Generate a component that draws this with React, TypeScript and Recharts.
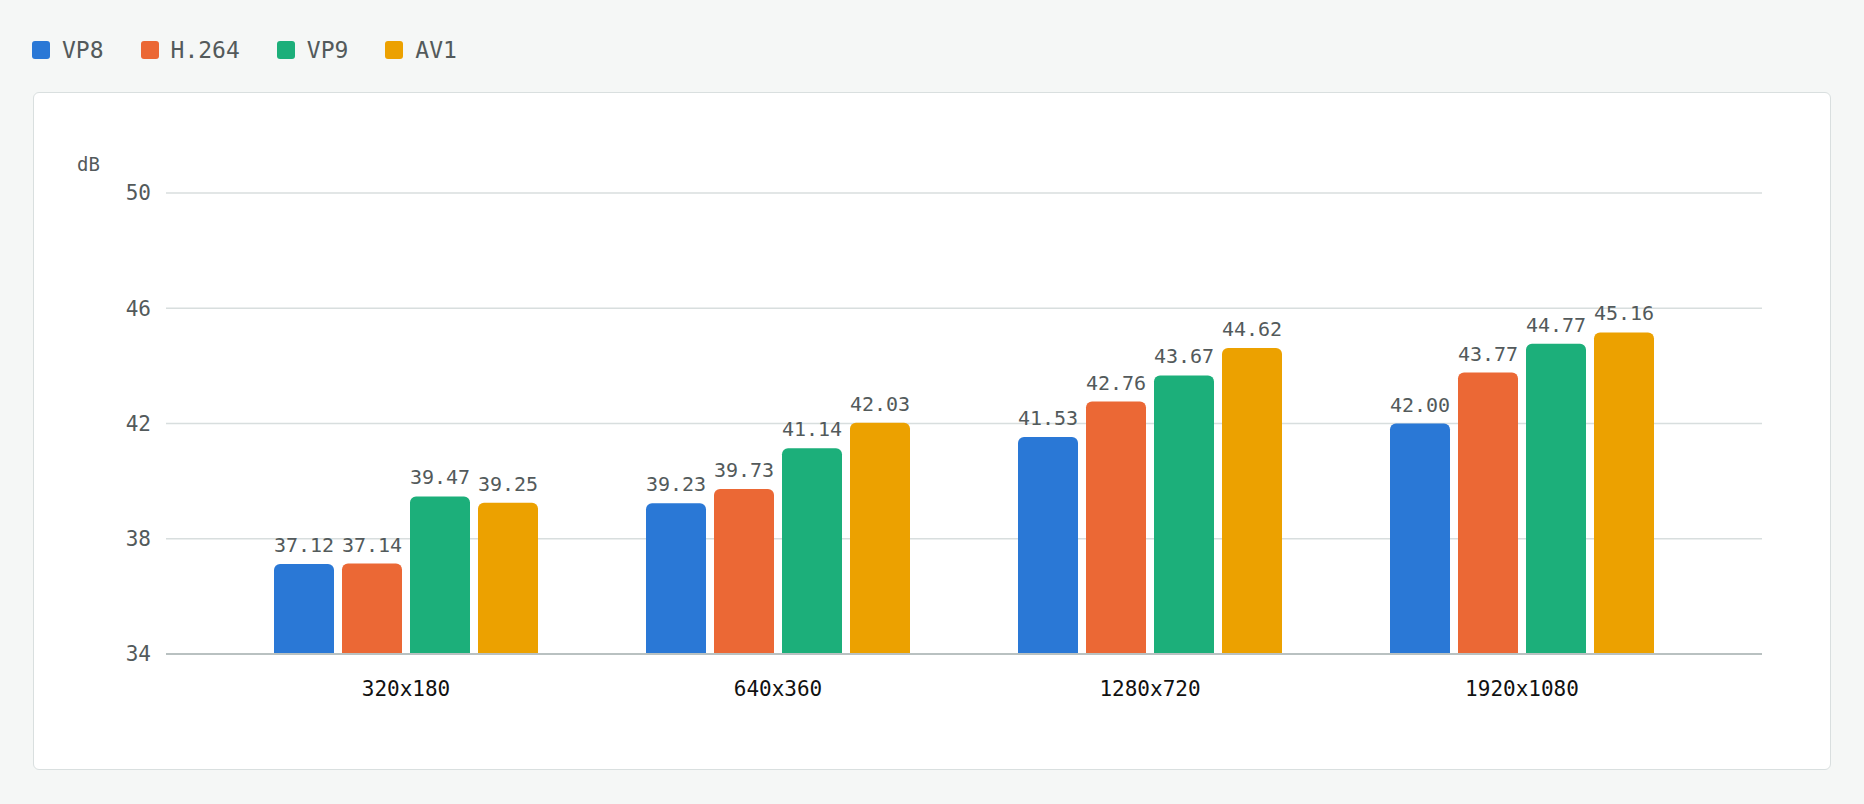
import { Bar, BarChart, CartesianGrid, LabelList, XAxis, YAxis } from "recharts";

const categories = ["320x180", "640x360", "1280x720", "1920x1080"];
const vp8 = [37.12, 39.23, 41.53, 42.0];
const h264 = [37.14, 39.73, 42.76, 43.77];
const vp9 = [39.47, 41.14, 43.67, 44.77];
const av1 = [39.25, 42.03, 44.62, 45.16];
const yTicks = [34, 38, 42, 46, 50];

const MONO = "'DejaVu Sans Mono', monospace";
const MUTED = "#535a5b";

const series = [
  { key: "vp8", name: "VP8", color: "#2a78d6", values: vp8 },
  { key: "h264", name: "H.264", color: "#eb6835", values: h264 },
  { key: "vp9", name: "VP9", color: "#1caf7a", values: vp9 },
  { key: "av1", name: "AV1", color: "#eca100", values: av1 },
];

const data = categories.map((name, i) => {
  const row: Record<string, string | number> = { name };
  series.forEach((s) => (row[s.key] = s.values[i]));
  return row;
});

function Legend() {
  return (
    <div style={{ position: "absolute", left: 32, top: 37, height: 26, display: "flex", alignItems: "center" }}>
      {series.map((s) => (
        <div key={s.key} style={{ display: "flex", alignItems: "center", marginRight: 37 }}>
          <span style={{ width: 18, height: 18, borderRadius: 3, background: s.color, marginRight: 12 }} />
          <span style={{ fontFamily: MONO, fontSize: 23, lineHeight: "26px", color: MUTED }}>{s.name}</span>
        </div>
      ))}
    </div>
  );
}

export default function App() {
  return (
    <div style={{ position: "absolute", left: 0, top: 0, width: 1864, height: 804, background: "#f5f7f6", overflow: "hidden" }}>
      <Legend />
      <div
        style={{
          position: "absolute",
          left: 33,
          top: 92,
          width: 1796,
          height: 676,
          background: "#fff",
          border: "1px solid #d9dfdf",
          borderRadius: 6,
        }}
      >
        <BarChart width={1796} height={676} data={data} margin={{ top: 100, right: 68, bottom: 0, left: 0 }} barSize={60} barGap={8}>
          <CartesianGrid vertical={false} stroke="#d8dede" strokeWidth={1.5} />
          <XAxis
            dataKey="name"
            height={115}
            padding={{ left: 54, right: 54 }}
            tickLine={false}
            tickMargin={21}
            axisLine={{ stroke: "#b9c1c1", strokeWidth: 2 }}
            tick={{ fill: "#111", fontSize: 21, fontFamily: MONO }}
          />
          <YAxis
            width={132}
            domain={[34, 50]}
            ticks={yTicks}
            allowDataOverflow
            axisLine={false}
            tickLine={false}
            tickMargin={9}
            tick={{ fill: MUTED, fontSize: 21, fontFamily: MONO }}
            label={{
              content: ({ viewBox }: any) => (
                <text x={viewBox.x + 43} y={viewBox.y - 22} fill={MUTED} fontSize={19} fontFamily={MONO}>
                  dB
                </text>
              ),
            }}
          />
          {series.map((s) => (
            <Bar key={s.key} dataKey={s.key} name={s.name} fill={s.color} radius={[6, 6, 0, 0]} isAnimationActive={false}>
              <LabelList
                dataKey={s.key}
                position="top"
                offset={12}
                fill={MUTED}
                fontSize={20}
                fontFamily={MONO}
                formatter={(v: any) => Number(v).toFixed(2)}
              />
            </Bar>
          ))}
        </BarChart>
      </div>
    </div>
  );
}
